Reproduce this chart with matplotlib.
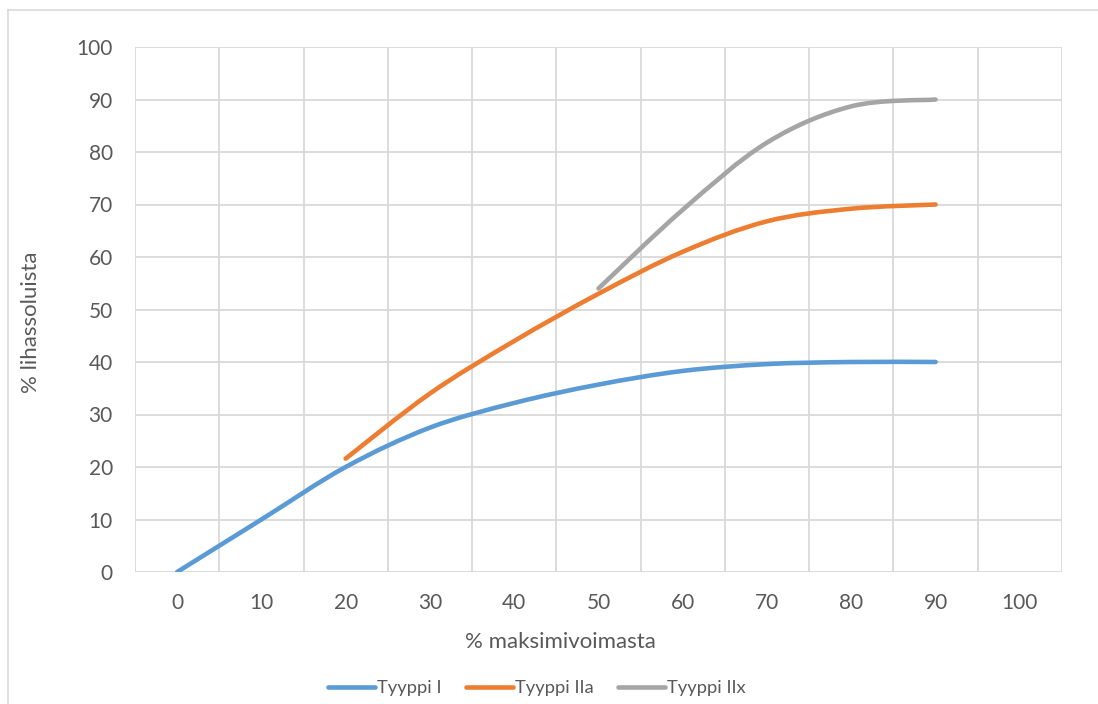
import numpy as np
import matplotlib
matplotlib.use("Agg")
import matplotlib.pyplot as plt
from matplotlib.path import Path
from matplotlib.patches import PathPatch
from matplotlib.lines import Line2D

# ---- data ----
categories = [0, 10, 20, 30, 40, 50, 60, 70, 80, 90, 100]
tyyppi_i = [0, 10, 20, 27.5, 32.2, 35.7, 38.3, 39.6, 40, 40, None]
tyyppi_iia = [None, None, 21.6, 34, 44, 53, 61, 66.8, 69.2, 70, None]
tyyppi_iix = [None, None, None, None, None, 54, 69, 81.8, 88.7, 90, None]
series_names = ["Tyyppi I", "Tyyppi IIa", "Tyyppi IIx"]
y_ticks = [0, 10, 20, 30, 40, 50, 60, 70, 80, 90, 100]

colors = ["#5B9BD5", "#ED7D31", "#A5A5A5"]
grid_c = "#D9D9D9"
text_c = "#595959"
FONT = ["Lato", "DejaVu Sans"]
plt.rcParams["font.family"] = FONT

W, H = 1098, 704
fig = plt.figure(figsize=(W / 100, H / 100), dpi=100)
ax = fig.add_axes([135 / W, 1 - 572 / H, (1062 - 135) / W, (572 - 47) / H])

lw = 3.3


def smooth_path(xs, ys):
    """Excel-like smoothed line (Catmull-Rom as cubic Bezier) through the points."""
    pts = np.array([(x, y) for x, y in zip(xs, ys) if y is not None], float)
    n = len(pts)
    verts = [tuple(pts[0])]
    codes = [Path.MOVETO]
    for i in range(n - 1):
        p0 = pts[i - 1] if i > 0 else pts[i]
        p1 = pts[i]
        p2 = pts[i + 1]
        p3 = pts[i + 2] if i + 2 < n else pts[i + 1]
        c1 = p1 + (p2 - p0) / 6.0
        c2 = p2 - (p3 - p1) / 6.0
        verts += [tuple(c1), tuple(c2), tuple(p2)]
        codes += [Path.CURVE4] * 3
    return Path(verts, codes)


xpos = list(range(len(categories)))
for vals, c in zip([tyyppi_i, tyyppi_iia, tyyppi_iix], colors):
    p = smooth_path(xpos, vals)
    patch = PathPatch(p, facecolor="none", edgecolor=c, lw=lw,
                      capstyle="round", joinstyle="round", zorder=3)
    ax.add_patch(patch)

ax.set_xlim(-0.5, len(categories) - 0.5)
ax.set_ylim(0, 100)
ax.set_yticks(y_ticks)
ax.set_xticks(xpos)
ax.set_xticklabels([str(c) for c in categories])

ax.grid(False)
for yv in y_ticks:
    ax.axhline(yv, color=grid_c, lw=1.3, zorder=1)
for xv in [k + 0.5 for k in range(-1, len(categories))]:
    ax.axvline(xv, color=grid_c, lw=1.3, zorder=1)
for s in ax.spines.values():
    s.set_visible(False)

ax.tick_params(axis="both", which="both", length=0, labelsize=15, colors=text_c)
ax.tick_params(axis="y", pad=16)
ax.tick_params(axis="x", pad=15)

fig.text(560 / W, 1 - 642 / H, "% maksimivoimasta", ha="center", va="center",
         fontsize=16, color=text_c)
fig.text(31 / W, 1 - 322 / H, "% lihassoluista", ha="center", va="center",
         rotation=90, fontsize=16, color=text_c)

handles = [Line2D([0], [0], color=c, lw=lw, solid_capstyle="round") for c in colors]
leg = fig.legend(handles, series_names, loc="center", bbox_to_anchor=(537 / W, 1 - 688 / H),
                 ncol=3, frameon=False, fontsize=13.2, handlelength=2.55,
                 handletextpad=0.15, columnspacing=1.3, labelcolor=text_c)

# chart border (outer frame)
fig.add_artist(Line2D([8 / W, 8 / W], [0, 1 - 10 / H], color=grid_c, lw=1.2,
                      transform=fig.transFigure))
fig.add_artist(Line2D([8 / W, 1], [1 - 10 / H, 1 - 10 / H], color=grid_c, lw=1.2,
                      transform=fig.transFigure))

fig.savefig("out.png", dpi=100)
